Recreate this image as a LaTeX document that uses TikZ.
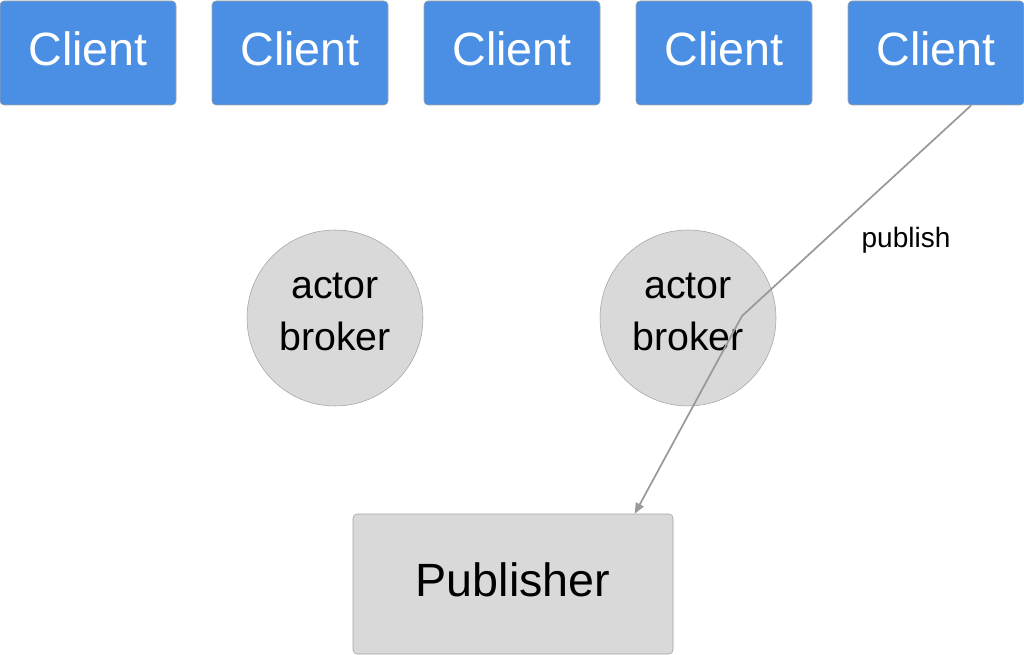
\documentclass[tikz,border=0pt]{standalone}
\usepackage{fontspec}
\setmainfont{Liberation Sans}
\usetikzlibrary{arrows.meta}

\definecolor{clientblue}{HTML}{4A8FE3}
\definecolor{boxgray}{HTML}{D9D9D9}
\definecolor{edgegray}{HTML}{A3A3A3}
\definecolor{wiregray}{HTML}{999999}

\tikzset{
  client/.style={draw=edgegray, fill=clientblue, rounded corners=3pt,
    minimum width=132pt, minimum height=78pt, inner sep=0pt, text depth=7pt,
    text=white, font=\fontsize{35}{40}\selectfont},
  broker/.style={circle, draw=edgegray, fill=boxgray, minimum size=132pt,
    inner sep=0pt, align=center, text depth=10pt,
    font=\fontsize{29.5}{39}\selectfont},
  publisher/.style={draw=edgegray, fill=boxgray, rounded corners=3pt,
    minimum width=240pt, minimum height=105pt, inner sep=0pt, text depth=7pt,
    font=\fontsize{35}{40}\selectfont},
  wire/.style={draw=wiregray, line width=1.3pt, line join=round}
}

\begin{document}
\begin{tikzpicture}[
  x=0.75pt, y=-0.75pt % one reference pixel
]
  % ---- page size ----
  \useasboundingbox (0,0) rectangle (1024,655);

  % ---- clients along the top ----
  \foreach \i/\x in {1/88, 2/300, 3/512, 4/724, 5/936} {
    \node[client] (client\i) at (\x, 53) {Client};
  }

  % ---- brokers ----
  \node[broker] (brokerA) at (335, 318) {actor\\broker};
  \node[broker] (brokerB) at (688, 318) {actor\\broker};

  % ---- publisher ----
  \node[publisher] (pub) at (513, 584) {Publisher};

  % ---- publish message ----
  \coordinate (bend) at (742, 316);
  \draw[wire, -{Triangle[length=8pt, width=6.5pt]}]
    (client5.-56) -- (bend) -- (pub.30);
  \node[font=\fontsize{21}{24}\selectfont] (publishlabel) at (906, 240) {publish};

\end{tikzpicture}
\end{document}
